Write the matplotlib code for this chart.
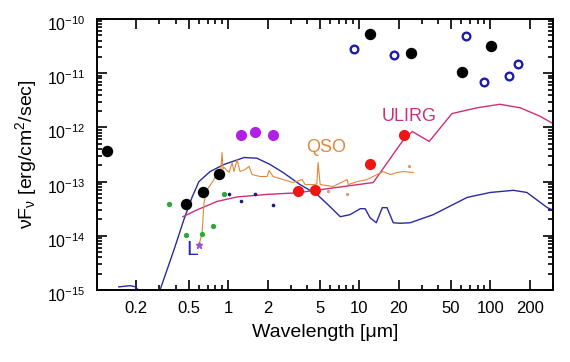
import math
import matplotlib
matplotlib.use("Agg")
import matplotlib.pyplot as plt
import matplotlib.transforms as mtransforms
from matplotlib.ticker import FixedLocator, LogLocator, NullFormatter, FuncFormatter

plt.rcParams['font.family'] = ['Liberation Sans', 'DejaVu Sans']
plt.rcParams['mathtext.fontset'] = 'custom'
plt.rcParams['mathtext.rm'] = 'Liberation Sans'
plt.rcParams['mathtext.it'] = 'Liberation Sans:italic'
plt.rcParams['mathtext.default'] = 'regular'

# L* galaxy template (blue)
lstar_wl = [0.147, 0.179, 0.198, 0.213, 0.25, 0.303, 0.387, 0.461, 0.531, 0.60, 0.729, 0.932,
            1.325, 1.66, 2.09, 2.63, 3.54, 4.77, 6.0, 7.17, 8.5, 10.2, 11.1, 12.1, 13.5,
            15.0, 16.3, 18.2, 20.5, 24.5, 36.7, 66.5, 100, 150, 190, 272, 300]
lstar_f = [1.14e-15, 1.2e-15, 1.14e-15, 9e-16, 6e-16, 1.0e-15, 5.5e-15, 2.0e-14, 5.1e-14, 1.0e-13,
           1.53e-13, 2.07e-13, 2.78e-13, 2.7e-13, 2.07e-13, 1.47e-13, 8.8e-14, 5.8e-14, 3.44e-14,
           2.25e-14, 2.45e-14, 3.16e-14, 3.16e-14, 2.15e-14, 1.74e-14, 3.3e-14, 3.3e-14, 1.74e-14,
           1.7e-14, 1.74e-14, 2.45e-14, 5.1e-14, 6.3e-14, 6.9e-14, 6.3e-14, 3.3e-14, 3.0e-14]

# QSO spectrum (orange)
qso_wl = [0.601, 0.634, 0.656, 0.692, 0.755, 0.796, 0.853, 0.880, 0.900, 0.915, 0.932, 1.018,
          1.073, 1.111, 1.171, 1.235, 1.348, 1.446, 1.524, 1.755, 1.985, 2.055, 2.206, 2.630,
          3.135, 3.672, 3.87, 4.46, 4.75, 4.86, 5.04, 6.33, 8.1, 8.24, 9.66, 11.5, 13.7,
          15.2, 17.3, 19.5, 21.7, 25.8]
qso_f = [6.8e-15, 1.14e-14, 4.1e-14, 7.1e-14, 9.6e-14, 1.19e-13, 1.53e-13, 1.6e-13, 3.44e-13,
         1.7e-13, 1.82e-13, 1.47e-13, 2.25e-13, 1.53e-13, 2.55e-13, 1.53e-13, 1.67e-13, 1.9e-13,
         1.35e-13, 1.24e-13, 1.24e-13, 1.6e-13, 1.24e-13, 1.09e-13, 9.6e-14, 1.09e-13, 8.8e-14,
         8.8e-14, 9.0e-14, 2.25e-13, 8.8e-14, 8.1e-14, 1.09e-13, 8.8e-14, 1.0e-13, 1.09e-13,
         1.35e-13, 1.53e-13, 1.35e-13, 1.47e-13, 1.53e-13, 1.47e-13]

# ULIRG template (pink)
ulirg_wl = [0.453, 0.58, 0.824, 1.17, 1.98, 3.36, 12.8, 21.3, 25.4, 34.2, 51, 79.5, 118, 169, 240, 300]
ulirg_f = [2.25e-14, 3.0e-14, 4.3e-14, 5.2e-14, 5.8e-14, 6.2e-14, 9.6e-14, 5.5e-13, 8.4e-13,
           5.5e-13, 1.8e-12, 2.3e-12, 2.67e-12, 2.3e-12, 1.6e-12, 1.18e-12]

# photometric points
black_wl = [0.119, 0.48, 0.644, 0.85, 12.1, 25, 61, 102]
black_f = [3.6e-13, 3.9e-14, 6.5e-14, 1.4e-13, 5.3e-11, 2.4e-11, 1.04e-11, 3.2e-11]

open_wl = [9.2, 18.5, 65.6, 89.6, 140, 162]
open_f = [2.8e-11, 2.2e-11, 4.8e-11, 6.9e-12, 8.7e-12, 1.5e-11]

purple_wl = [1.26, 1.61, 2.2]
purple_f = [7.1e-13, 8.1e-13, 7.1e-13]

red_wl = [3.42, 4.61, 12.1, 22]
red_f = [6.7e-14, 7.0e-14, 2.1e-13, 7.1e-13]

green_wl = [0.355, 0.48, 0.63, 0.77, 0.93]
green_f = [3.9e-14, 1.05e-14, 1.08e-14, 1.5e-14, 5.8e-14]

navy_wl = [1.02, 1.26, 1.6, 2.2]
navy_f = [5.8e-14, 4.3e-14, 5.8e-14, 3.7e-14]

tan_wl = [5.8, 8.1, 24]
tan_f = [6.7e-14, 5.8e-14, 1.9e-13]

major_x = [0.2, 0.5, 1, 2, 5, 10, 20, 50, 100, 200]
major_x_labels = ['0.2', '0.5', '1', '2', '5', '10', '20', '50', '100', '200']
major_y = [1e-15, 1e-14, 1e-13, 1e-12, 1e-11, 1e-10]

fig = plt.figure(figsize=(5.70, 3.62), dpi=100)
ax = fig.add_axes([0.170, 0.199, 0.800, 0.7485])

ax.set_xscale('log')
ax.set_yscale('log')

ax.plot(lstar_wl, lstar_f, color='#2b2ba0', lw=1.0, zorder=2)
ax.plot(ulirg_wl, ulirg_f, color='#cc2f7c', lw=1.0, zorder=2)
ax.plot(qso_wl, qso_f, color='#e0883a', lw=0.8, zorder=3)

ax.plot(black_wl, black_f, 'o', color='black', ms=7.2, zorder=5)
ax.plot(open_wl, open_f, 'o', mfc='none', mec='#1c1cb0', mew=1.7, ms=5.5, zorder=5)
ax.plot(purple_wl, purple_f, 'o', color='#b11ee6', ms=7, zorder=5)
ax.plot(red_wl, red_f, 'o', color='#f01515', ms=7, zorder=5)
ax.plot(green_wl, green_f, 'o', color='#2fa83a', ms=2.8, zorder=4)
ax.plot(navy_wl, navy_f, 'o', color='#1a1a80', ms=1.6, zorder=4)
ax.plot(tan_wl, tan_f, 'o', color='#d4a070', ms=1.4, zorder=4)
ax.plot([0.6], [6.8e-15], marker='*', color='#9a50d0', ms=5, zorder=4, ls='none')

ax.text(0.585, 5.6e-15, 'L', color='#2323b5', fontsize=15, ha='right', va='center')
ax.text(5.6, 4.2e-13, 'QSO', color='#e0883a', fontsize=13, ha='center', va='center')
ax.text(24, 1.6e-12, 'ULIRG', color='#cc2f7c', fontsize=13, ha='center', va='center')

ax.set_xlim(0.1, 300)
ax.set_ylim(1e-15, 1e-10)

ax.xaxis.set_major_locator(FixedLocator(major_x))
ax.xaxis.set_major_formatter(FuncFormatter(
    lambda v, p: major_x_labels[major_x.index(min(major_x, key=lambda m: abs(m - v)))]))
ax.xaxis.set_minor_locator(LogLocator(base=10, subs=(3, 4, 6, 7, 8, 9), numticks=20))
ax.xaxis.set_minor_formatter(NullFormatter())

ax.yaxis.set_major_locator(FixedLocator(major_y))
ax.yaxis.set_major_formatter(FuncFormatter(lambda v, p: r'10$^{%d}$' % round(math.log10(v))))
ax.yaxis.set_minor_locator(LogLocator(base=10, subs=tuple(range(2, 10)), numticks=20))
ax.yaxis.set_minor_formatter(NullFormatter())

ax.tick_params(which='both', direction='in', top=True, right=True, width=1.2, colors='black')
ax.tick_params(axis='x', labelsize=12)
ax.tick_params(axis='y', labelsize=11.5)
ax.tick_params(which='major', length=7, pad=8)
ax.tick_params(which='minor', length=3.5)
for s in ax.spines.values():
    s.set_linewidth(1.4)

ax.set_xlabel('Wavelength [μm]', fontsize=14, labelpad=6)
ax.set_ylabel('νF$_ν$ [erg/cm$^2$/sec]', fontsize=14, labelpad=6)

fig.canvas.draw()
shift = mtransforms.ScaledTranslation(0, -3 / 72, fig.dpi_scale_trans)
for t in ax.yaxis.get_major_ticks():
    t.label1.set_transform(t.label1.get_transform() + shift)

fig.savefig('out.png', dpi=100)
